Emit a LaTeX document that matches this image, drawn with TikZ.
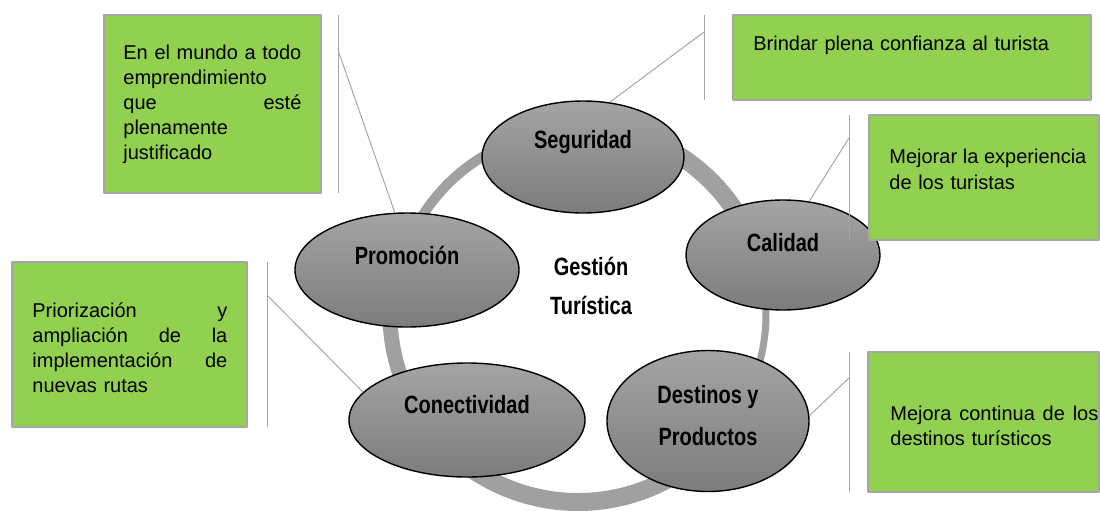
\documentclass[tikz,border=0pt]{standalone}
\usepackage{fontspec}
\setmainfont{Liberation Sans}
\newfontfamily\boxfont{Liberation Sans}
\newfontfamily\ovalfont{Liberation Sans}[FakeStretch=0.8]
\usetikzlibrary{shapes.geometric}
\definecolor{verde}{HTML}{92D050}
\definecolor{borde}{HTML}{A6A6A6}
\definecolor{gris}{HTML}{A0A0A0}
\definecolor{gclaro}{HTML}{A4A4A4}
\definecolor{goscuro}{HTML}{7C7C7C}
\begin{document}
\begin{tikzpicture}[x=.5pt, y=-.5pt, line join=round,
	oval/.style={ellipse, draw=black, line width=.7pt, top color=gclaro, bottom color=goscuro, inner sep=0pt},
	lbl/.style={font=\ovalfont\bfseries\fontsize{12.5}{19.5}\selectfont, align=center, inner sep=0pt},
	caja/.style={draw=borde, line width=.7pt, fill=verde, inner sep=0pt},
	txt/.style={font=\boxfont\fontsize{10}{12.5}\selectfont, align=left, inner sep=0pt, anchor=base west},
	brazo/.style={draw=borde, line width=.5pt},
	aro/.style={draw=gris, line cap=butt}]
		\useasboundingbox (0,0) rectangle (1100,510);
		\coordinate (ctr) at (578,314);
		\draw[aro, line width=9pt] (ctr) ++(-88:188) arc[start angle=-88, end angle=-16, radius=188];
		\draw[aro, line width=3.5pt] (ctr) ++(-16:188) arc[start angle=-16, end angle=40, radius=188];
		\draw[aro, line width=9pt] (ctr) ++(40:188) arc[start angle=40, end angle=136, radius=188];
		\draw[aro, line width=7.5pt] (ctr) ++(136:188) arc[start angle=136, end angle=195, radius=188];
		\draw[aro, line width=5pt] (ctr) ++(195:184) arc[start angle=195, end angle=272, radius=184];
		
		\node[oval, minimum width=101pt, minimum height=56pt] (seg) at (583,157) {};
		\node[oval, minimum width=97pt, minimum height=55pt] (cal) at (783,255) {};
		\node[oval, minimum width=101pt, minimum height=70.5pt] (des) at (708,421) {};
		\node[oval, minimum width=118pt, minimum height=57pt] (con) at (467,420) {};
		\node[oval, minimum width=112pt, minimum height=57pt] (prom) at (407,270) {};
		\node[lbl] (tseg) at ([yshift=7.5pt]seg.center) {Seguridad};
		\node[lbl] (tcal) at ([yshift=6pt]cal.center) {Calidad};
		\node[lbl] (tdes) at ([yshift=2.5pt]des.center) {Destinos y\\[1.5pt]Productos};
		\node[lbl] (tcon) at ([yshift=7.5pt]con.center) {Conectividad};
		\node[lbl] (tprom) at ([yshift=7.5pt]prom.center) {Promoción};
		\node[lbl] (gest) at (591,286) {Gestión\\Turística};
		
		\node[caja, minimum width=108.5pt, minimum height=89pt] (bprom) at (212.5,104) {};
		\node[caja, minimum width=179pt, minimum height=42.5pt] (bseg) at (912,57.5) {};
		\node[caja, minimum width=115pt, minimum height=62.5pt] (bcal) at (984,177.5) {};
		\node[caja, minimum width=117.5pt, minimum height=82.5pt] (bcon) at (129.5,344.5) {};
		\node[caja, minimum width=115.5pt, minimum height=70pt] (bdes) at (983.5,422) {};
		\node[txt, text width=89pt] (xprom) at (123,59) {En el mundo a todo\\emprendimiento\\que\hfill esté\\plenamente\\justificado};
		\node[txt, text width=170pt] (xseg) at (753,50) {Brindar plena confianza al turista};
		\node[txt, text width=98.5pt] (xcal) at (889,163) {Mejorar\hfill la\hfill experiencia\\[.8pt]de los turistas};
		\node[txt, text width=97.5pt] (xcon) at (32,317) {Priorización\hfill y\\ampliación\hfill de\hfill la\\implementación\hfill de\\nuevas rutas};
		\node[txt, text width=104pt] (xdes) at (890,420) {Mejora\hfill continua\hfill de\hfill los\\destinos turísticos};
		
		\coordinate (pa) at (338,15);
		\coordinate (pb) at (338,193);
		\coordinate (pt) at (338,50);
		\coordinate (sa) at (704,15);
		\coordinate (sb) at (704,100);
		\coordinate (st) at (704,32);
		\coordinate (ca) at (849,115);
		\coordinate (cb) at (849,240);
		\coordinate (ct) at (849,138);
		\coordinate (na) at (267,262);
		\coordinate (nb) at (267,427);
		\coordinate (nt) at (267,295);
		\coordinate (da) at (849,352);
		\coordinate (db) at (849,492);
		\coordinate (dt) at (849,378);
		\draw[brazo] (pa) -- (pb);
		\draw[brazo] (pt) -- (prom.102);
		\draw[brazo] (sa) -- (sb);
		\draw[brazo] (st) -- (seg.64);
		\draw[brazo] (ca) -- (cb);
		\draw[brazo] (ct) -- (cal.64);
		\draw[brazo] (na) -- (nb);
		\draw[brazo] (nt) -- (con.165);
		\draw[brazo] (da) -- (db);
		\draw[brazo] (dt) -- (des.3);
		
	\end{tikzpicture}
\end{document}
